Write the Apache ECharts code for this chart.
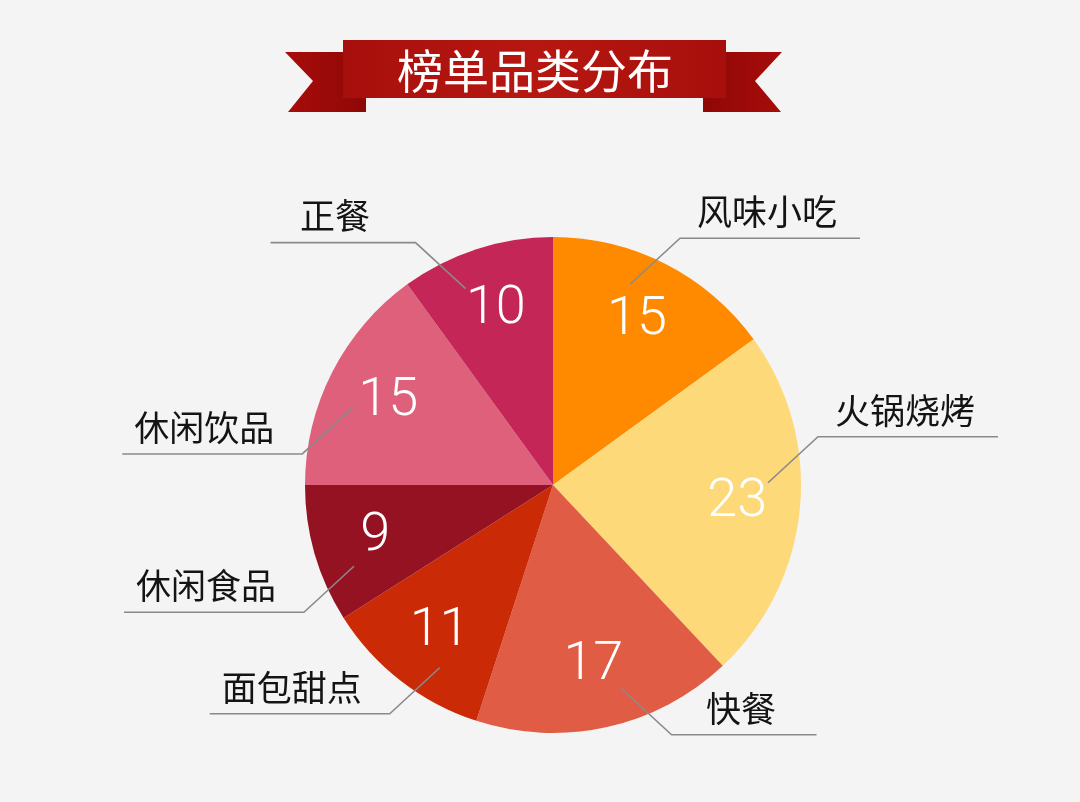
<!DOCTYPE html>
<html>
<head>
<meta charset="utf-8">
<title>榜单品类分布</title>
<script src="https://cdn.jsdelivr.net/npm/echarts@6/dist/echarts.min.js"></script>
<style>
  html, body { margin: 0; padding: 0; background: #f4f4f4; }
  #chart { width: 1080px; height: 802px; }
</style>
</head>
<body>
<div id="chart"></div>
<script>
const titleText = '榜单品类分布';
const categories = ['风味小吃', '火锅烧烤', '快餐', '面包甜点', '休闲食品', '休闲饮品', '正餐'];
const values = [15, 23, 17, 11, 9, 15, 10];
const sliceColors = ['#ff8a00', '#fdd97a', '#e05c44', '#cb2a06', '#951222', '#df607b', '#c42658'];
// which way (screen y) each leader line bends out of its slice: -1 up, 1 down
const leaderDir = [-1, -1, 1, 1, 1, 1, -1];

(function () {
  const el = document.getElementById('chart');
  const chart = echarts.init(el);

  const cx = 553;
  const cy = 485;
  const R = 248;
  const cjk = '"Noto Sans CJK SC", "Noto Sans", sans-serif';
  const clear = { color: 'rgba(0,0,0,0)', borderWidth: 0 };

  const pieData = categories.map((name, i) => ({
    name,
    value: values[i],
    itemStyle: { color: sliceColors[i], borderWidth: 0 },
  }));
  const ghostData = categories.map((name, i) => ({ name, value: values[i] }));

  // ribbon banner behind the title
  const ribbonDark = new echarts.graphic.LinearGradient(0, 0, 1, 0, [
    { offset: 0, color: '#a80c0a' },
    { offset: 1, color: '#8e0806' },
  ]);
  const ribbonDarkR = new echarts.graphic.LinearGradient(0, 0, 1, 0, [
    { offset: 0, color: '#8e0806' },
    { offset: 1, color: '#a80c0a' },
  ]);
  const ribbonMain = new echarts.graphic.LinearGradient(0, 0, 1, 0, [
    { offset: 0, color: '#a70f0c' },
    { offset: 0.5, color: '#b71711' },
    { offset: 1, color: '#a70f0c' },
  ]);

  // leader line: library start point, then a diagonal kink, then a flat run under the name
  function nameLayout(p) {
    const pts = p.labelLinePoints;
    if (!pts || !pts.length) return {};
    const start = pts[0];
    const sx = start[0] >= cx ? 1 : -1;
    const sy = leaderDir[p.dataIndex] || 1;
    const textW = p.labelRect ? p.labelRect.width : 140;
    const run = 110 + textW / 2;
    const corner = [start[0] + sx * 50, start[1] + sy * 46];
    const end = [corner[0] + sx * run, corner[1]];
    return {
      labelLinePoints: [start, corner, end],
      x: (corner[0] + end[0]) / 2 + sx * (sx > 0 ? -3 : 8),
      y: end[1] - 9,
      align: 'center',
      verticalAlign: 'bottom',
    };
  }

  chart.setOption({
    backgroundColor: '#f4f4f4',
    animation: false,
    graphic: [
      {
        type: 'polygon', z: 1, silent: true,
        shape: { points: [[285, 52], [366, 52], [366, 112], [288, 112], [313, 81]] },
        style: { fill: ribbonDark },
      },
      {
        type: 'polygon', z: 1, silent: true,
        shape: { points: [[703, 52], [782, 52], [755, 81], [781, 112], [703, 112]] },
        style: { fill: ribbonDarkR },
      },
      {
        type: 'rect', z: 2, silent: true,
        shape: { x: 343, y: 40, width: 383, height: 58 },
        style: { fill: ribbonMain },
      },
      {
        type: 'text', z: 3, silent: true,
        x: 535, y: 71,
        style: {
          text: titleText,
          fill: '#ffffff',
          font: '46px ' + cjk,
          align: 'center',
          verticalAlign: 'middle',
        },
      },
    ],
    series: [
      {
        name: 'slices',
        type: 'pie',
        z: 2,
        center: [cx, cy],
        radius: R,
        startAngle: 90,
        clockwise: true,
        silent: true,
        label: { show: false },
        labelLine: { show: false },
        emphasis: { disabled: true },
        data: pieData,
      },
      {
        name: 'values',
        type: 'pie',
        z: 3,
        center: [cx, cy],
        radius: [116, R],
        startAngle: 90,
        silent: true,
        itemStyle: clear,
        emphasis: { disabled: true },
        label: {
          show: true,
          position: 'inside',
          formatter: '{c}',
          color: '#ffffff',
          fontSize: 54,
          fontWeight: 300,
          fontFamily: 'Roboto, "Open Sans", sans-serif',
        },
        labelLine: { show: false },
        data: ghostData,
      },
      {
        name: 'names',
        type: 'pie',
        z: 4,
        center: [cx, cy],
        radius: 215,
        startAngle: 96,
        silent: true,
        avoidLabelOverlap: false,
        itemStyle: clear,
        emphasis: { disabled: true },
        label: {
          show: true,
          position: 'outside',
          formatter: '{b}',
          color: '#141414',
          fontSize: 35,
          fontFamily: cjk,
        },
        labelLine: {
          show: true,
          length: 5,
          length2: 5,
          smooth: false,
          lineStyle: { color: '#8a8a8a', width: 1.6 },
        },
        labelLayout: nameLayout,
        data: ghostData,
      },
    ],
  });

  window.addEventListener('resize', () => chart.resize());
})();
</script>
</body>
</html>
